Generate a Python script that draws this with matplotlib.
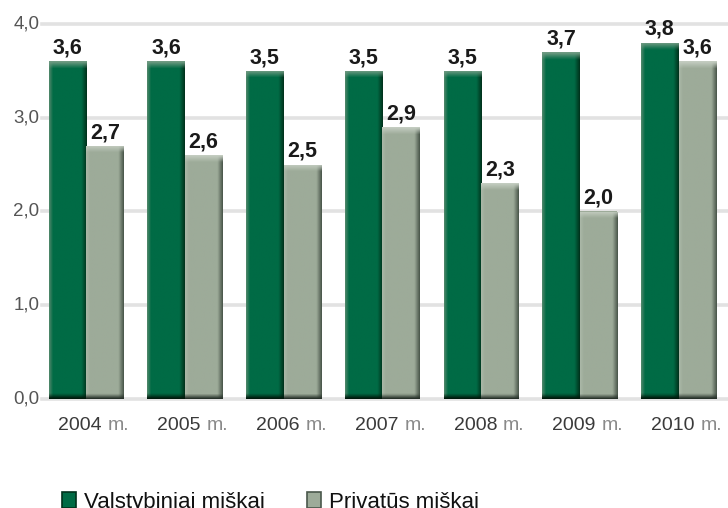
#!/usr/bin/env python3
# -*- coding: utf-8 -*-
import numpy as np
import matplotlib
matplotlib.use("Agg")
import matplotlib.pyplot as plt
from matplotlib.colors import to_rgb

years = ["2004", "2005", "2006", "2007", "2008", "2009", "2010"]
valst = [3.6, 3.6, 3.5, 3.5, 3.5, 3.7, 3.8]
priv = [2.7, 2.6, 2.5, 2.9, 2.3, 2.0, 3.6]
labels = ["Valstybiniai miškai", "Privatūs miškai"]
yticks = [0.0, 1.0, 2.0, 3.0, 4.0]

plt.rcParams["font.family"] = ["Liberation Sans", "DejaVu Sans"]

DARK = dict(main="#006b45", left="#4f876a", right="#00321c", top="#6f9a82", bottom="#001a0c")
LIGHT = dict(main="#9dab99", left="#aab7a7", right="#4a574b", top="#c3ccc0", bottom="#27322a")


def shaded_bar(ax, x0, w, h, pal):
    # gradient image clipped to a bar patch -> pseudo 3d look
    bar = ax.bar(x0, h, width=w, align="edge", color=pal["main"], zorder=3)[0]
    nx, ny = 60, 200
    img = np.zeros((ny, nx, 3))
    img[:] = to_rgb(pal["main"])
    u = np.linspace(0, 1, nx)
    left = np.clip(1 - u / 0.10, 0, 1)[None, :, None]
    right = np.clip((u - 0.86) / 0.14, 0, 1)[None, :, None]
    img = img * (1 - left) + np.array(to_rgb(pal["left"])) * left
    img = img * (1 - right) + np.array(to_rgb(pal["right"])) * right
    ys = np.linspace(0, h, ny)[:, None, None]
    top = np.clip(1 - (h - ys) / 0.07, 0, 1)
    img = img * (1 - top) + np.array(to_rgb(pal["top"])) * top
    bot = np.clip(1 - ys / 0.05, 0, 1)
    img = img * (1 - bot) + np.array(to_rgb(pal["bottom"])) * bot
    im = ax.imshow(img, extent=(x0, x0 + w, 0, h), origin="lower",
                   aspect="auto", zorder=4, interpolation="bilinear")
    im.set_clip_path(bar)
    return bar


fig = plt.figure(figsize=(7.28, 5.08), dpi=100)
ax = fig.add_axes([42 / 728, 109 / 508, 686 / 728, 375 / 508])

x = np.arange(len(years))
w = 0.38
for i in x:
    shaded_bar(ax, i - w, w, valst[i], DARK)
    shaded_bar(ax, i, w, priv[i], LIGHT)
    ax.annotate(f"{valst[i]:.1f}".replace(".", ","), (i - w / 2, valst[i]),
                xytext=(0, 2), textcoords="offset points", ha="center", va="bottom",
                fontsize=15.5, fontweight="bold", color="#1a1a1a", zorder=6)
    ax.annotate(f"{priv[i]:.1f}".replace(".", ","), (i + w / 2, priv[i]),
                xytext=(0, 2), textcoords="offset points", ha="center", va="bottom",
                fontsize=15.5, fontweight="bold", color="#1a1a1a", zorder=6)
    # year labels: dark year + lighter "m."
    ax.annotate(years[i], (i, 0), xytext=(11.5, -19), textcoords="offset points",
                ha="right", va="center", fontsize=14, color="#3a3a3a")
    ax.annotate("m.", (i, 0), xytext=(15.8, -19), textcoords="offset points",
                ha="left", va="center", fontsize=14, color="#8a8a8a")

for v in yticks:
    ax.axhline(v, color="#e2e2e2", lw=2.6, zorder=1, clip_on=False)
    ax.annotate(f"{v:.1f}".replace(".", ","), (0, v), xycoords=("axes fraction", "data"),
                xytext=(-2, 0), textcoords="offset points", ha="right", va="center",
                fontsize=13.5, color="#555555")

ax.set_xlim(-0.446, 6.50)
ax.set_ylim(0, 4.0)
ax.set_xticks([])
ax.set_yticks([])
for s in ax.spines.values():
    s.set_visible(False)

# legend drawn by hand, bottom edge of the picture
for px, lab, pal in [(62, labels[0], DARK), (307, labels[1], LIGHT)]:
    sq = plt.Rectangle((px / 728, 0.0), 14 / 728, 16 / 508, transform=fig.transFigure,
                       facecolor=pal["main"], edgecolor=pal["right"], lw=1.2)
    fig.patches.append(sq)
    fig.text((px + 22) / 728, 0.0, lab, ha="left", va="baseline",
             fontsize=16, color="#111111")

fig.savefig("out.png", dpi=100)
